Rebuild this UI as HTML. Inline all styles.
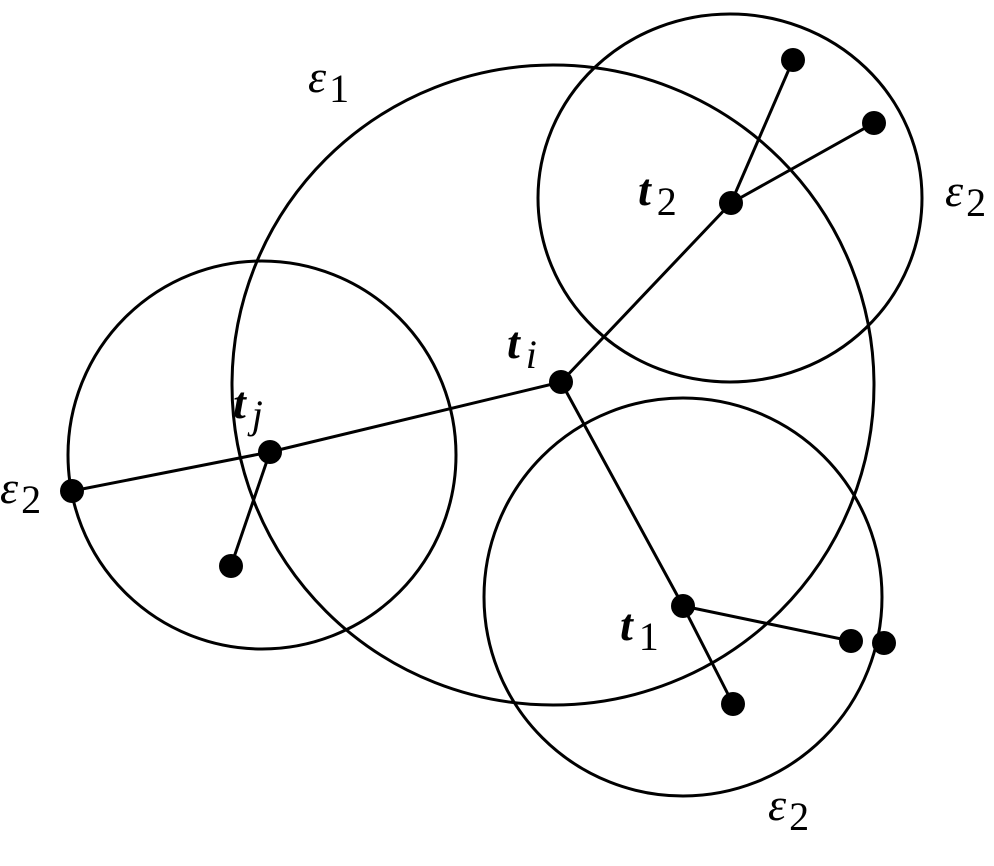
<!DOCTYPE html>
<html><head><meta charset="utf-8"><style>body{margin:0;background:#fff}svg{display:block}</style></head><body>
<svg width="994" height="866" viewBox="0 0 994 866" xmlns="http://www.w3.org/2000/svg">
<g fill="none" stroke="#000" stroke-width="3">
<ellipse cx="553" cy="385" rx="321" ry="320"/>
<circle cx="262" cy="455" r="194"/>
<ellipse cx="730" cy="198" rx="192" ry="184"/>
<circle cx="683" cy="597" r="199"/>
<polyline points="72,491 270,452 561,382 731,203"/>
<line x1="731" y1="203" x2="793" y2="60"/>
<line x1="731" y1="203" x2="874" y2="123"/>
<line x1="270" y1="452" x2="231" y2="566"/>
<polyline points="561,382 683,606 733,704"/>
<line x1="683" y1="606" x2="851" y2="641"/>
</g>
<g fill="#000">
<circle cx="561" cy="382" r="12"/><circle cx="270" cy="452" r="12"/><circle cx="72" cy="491" r="12"/>
<circle cx="231" cy="566" r="12"/><circle cx="731" cy="203" r="12"/><circle cx="793" cy="60" r="12"/>
<circle cx="874" cy="123" r="12"/><circle cx="683" cy="606" r="12"/><circle cx="733" cy="704" r="12"/>
<circle cx="851" cy="641" r="12"/><circle cx="884" cy="643" r="12"/>
</g>
<g font-family="Liberation Serif, serif" font-size="46" fill="#000">
<text x="308" y="92" font-style="italic">ε<tspan font-style="normal" font-size="40" dx="3" dy="10">1</tspan></text>
<text x="945" y="206" font-style="italic">ε<tspan font-style="normal" font-size="40" dx="3" dy="10">2</tspan></text>
<text x="0" y="503" font-style="italic">ε<tspan font-style="normal" font-size="40" dx="3" dy="10">2</tspan></text>
<text x="768" y="820" font-style="italic">ε<tspan font-style="normal" font-size="40" dx="3" dy="10">2</tspan></text>
<text x="638" y="205" font-style="italic" font-weight="bold">t<tspan font-weight="normal" font-style="normal" font-size="40" dx="6" dy="10">2</tspan></text>
<text x="507" y="358" font-style="italic" font-weight="bold">t<tspan font-weight="normal" font-size="40" dx="6" dy="10">i</tspan></text>
<text x="233" y="418" font-style="italic" font-weight="bold">t<tspan font-weight="normal" font-size="40" dx="6" dy="10">j</tspan></text>
<text x="620" y="640" font-style="italic" font-weight="bold">t<tspan font-weight="normal" font-style="normal" font-size="40" dx="6" dy="10">1</tspan></text>
</g>
</svg>
</body></html>
